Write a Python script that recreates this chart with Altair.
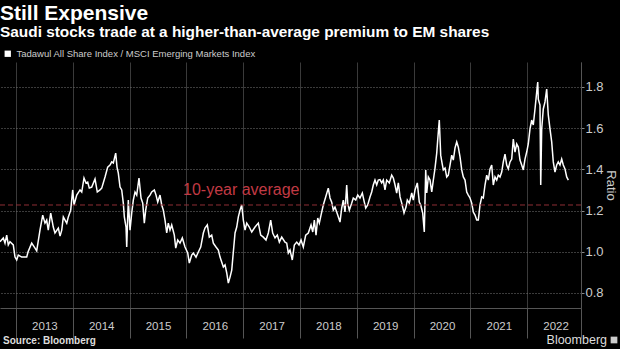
import altair as alt
import pandas as pd

# ---------------- data ----------------
years = [
    2012.718, 2012.776, 2012.806, 2012.836, 2012.864, 2012.894, 2012.952, 2012.982,
    2013.012, 2013.040, 2013.100, 2013.188, 2013.211, 2013.276, 2013.334, 2013.364,
    2013.422, 2013.470, 2013.510, 2013.540, 2013.568, 2013.611, 2013.656, 2013.686,
    2013.745, 2013.775, 2013.805, 2013.833, 2013.863, 2013.893, 2013.921, 2013.963,
    2013.998, 2014.021, 2014.069, 2014.127, 2014.157, 2014.197, 2014.232, 2014.262,
    2014.290, 2014.333, 2014.391, 2014.431, 2014.479, 2014.509, 2014.567, 2014.614,
    2014.655, 2014.685, 2014.713, 2014.755, 2014.778, 2014.801, 2014.831, 2014.861,
    2014.889, 2014.907, 2014.937, 2014.949, 2014.977, 2015.007, 2015.037, 2015.065,
    2015.095, 2015.125, 2015.165, 2015.201, 2015.231, 2015.259, 2015.283, 2015.319,
    2015.359, 2015.389, 2015.435, 2015.465, 2015.495, 2015.535, 2015.565, 2015.593,
    2015.623, 2015.653, 2015.681, 2015.711, 2015.741, 2015.787, 2015.812, 2015.847,
    2015.887, 2015.928, 2015.975, 2016.023, 2016.051, 2016.093, 2016.121, 2016.169,
    2016.210, 2016.252, 2016.298, 2016.327, 2016.368, 2016.403, 2016.445, 2016.474,
    2016.521, 2016.562, 2016.592, 2016.621, 2016.650, 2016.680, 2016.710, 2016.738,
    2016.768, 2016.798, 2016.826, 2016.856, 2016.886, 2016.914, 2016.944, 2016.974,
    2017.002, 2017.032, 2017.062, 2017.107, 2017.150, 2017.208, 2017.266, 2017.308,
    2017.354, 2017.401, 2017.442, 2017.484, 2017.519, 2017.560, 2017.600, 2017.636,
    2017.678, 2017.736, 2017.766, 2017.794, 2017.824, 2017.864, 2017.900, 2017.942,
    2017.982, 2018.018, 2018.058, 2018.100, 2018.146, 2018.194, 2018.224, 2018.252,
    2018.282, 2018.312, 2018.340, 2018.370, 2018.410, 2018.452, 2018.498, 2018.528,
    2018.558, 2018.586, 2018.616, 2018.664, 2018.704, 2018.734, 2018.762, 2018.792,
    2018.822, 2018.840, 2018.868, 2018.910, 2018.938, 2018.981, 2019.016, 2019.056,
    2019.097, 2019.132, 2019.157, 2019.192, 2019.232, 2019.262, 2019.290, 2019.320,
    2019.350, 2019.378, 2019.408, 2019.438, 2019.466, 2019.496, 2019.526, 2019.572,
    2019.614, 2019.643, 2019.673, 2019.702, 2019.731, 2019.761, 2019.791, 2019.831,
    2019.866, 2019.889, 2019.924, 2019.967, 2019.995, 2020.025, 2020.065, 2020.100,
    2020.125, 2020.160, 2020.188, 2020.213, 2020.231, 2020.259, 2020.289, 2020.319,
    2020.347, 2020.377, 2020.407, 2020.424, 2020.452, 2020.477, 2020.500, 2020.523,
    2020.553, 2020.583, 2020.611, 2020.641, 2020.671, 2020.699, 2020.729, 2020.759,
    2020.787, 2020.817, 2020.847, 2020.875, 2020.905, 2020.935, 2020.963, 2020.993,
    2021.023, 2021.051, 2021.081, 2021.111, 2021.139, 2021.169, 2021.199, 2021.227,
    2021.257, 2021.287, 2021.315, 2021.345, 2021.375, 2021.403, 2021.433, 2021.463,
    2021.491, 2021.521, 2021.551, 2021.579, 2021.609, 2021.639, 2021.667, 2021.697,
    2021.727, 2021.755, 2021.785, 2021.815, 2021.843, 2021.873, 2021.903, 2021.931,
    2021.961, 2021.991, 2022.019, 2022.049, 2022.079, 2022.107, 2022.137, 2022.167,
    2022.185, 2022.195, 2022.225, 2022.238, 2022.255, 2022.283, 2022.313, 2022.343,
    2022.371, 2022.401, 2022.431, 2022.459, 2022.489, 2022.519, 2022.547, 2022.577,
    2022.607, 2022.635, 2022.665, 2022.695, 2022.724,
]
ratio = [
    1.049, 1.067, 1.042, 1.081, 1.033, 1.049, 1.033, 0.974,
    0.960, 0.984, 0.974, 0.974, 0.999, 1.042, 1.018, 1.004,
    1.105, 1.178, 1.139, 1.154, 1.105, 1.188, 1.120, 1.091,
    1.115, 1.076, 1.105, 1.169, 1.154, 1.139, 1.169, 1.202,
    1.300, 1.227, 1.275, 1.300, 1.290, 1.358, 1.334, 1.338,
    1.309, 1.314, 1.353, 1.290, 1.300, 1.309, 1.363, 1.411,
    1.421, 1.436, 1.431, 1.479, 1.411, 1.382, 1.314, 1.300,
    1.236, 1.169, 1.120, 1.023, 1.251, 1.105, 1.188, 1.251,
    1.290, 1.275, 1.358, 1.261, 1.236, 1.139, 1.202, 1.261,
    1.275, 1.290, 1.300, 1.275, 1.241, 1.275, 1.227, 1.202,
    1.154, 1.091, 1.139, 1.105, 1.130, 1.081, 1.018, 1.057,
    1.042, 1.067, 1.023, 0.994, 0.945, 0.984, 0.994, 0.974,
    0.999, 1.023, 1.091, 1.115, 1.130, 1.071, 1.081, 1.042,
    1.023, 1.008, 0.974, 0.950, 0.926, 0.936, 0.897, 0.848,
    0.877, 0.911, 0.999, 1.091, 1.120, 1.169, 1.202, 1.227,
    1.154, 1.105, 1.139, 1.120, 1.096, 1.120, 1.139, 1.081,
    1.071, 1.057, 1.091, 1.154, 1.091, 1.067, 1.081, 1.047,
    1.071, 1.047, 1.042, 0.994, 1.008, 0.960, 1.033, 1.047,
    1.033, 1.057, 1.023, 1.081, 1.091, 1.130, 1.096, 1.154,
    1.081, 1.164, 1.139, 1.178, 1.227, 1.266, 1.309, 1.261,
    1.241, 1.202, 1.217, 1.178, 1.144, 1.212, 1.251, 1.193,
    1.324, 1.236, 1.202, 1.236, 1.261, 1.251, 1.275, 1.261,
    1.285, 1.241, 1.212, 1.227, 1.266, 1.290, 1.324, 1.348,
    1.324, 1.348, 1.350, 1.334, 1.348, 1.300, 1.348, 1.334,
    1.372, 1.358, 1.324, 1.285, 1.334, 1.266, 1.236, 1.188,
    1.217, 1.251, 1.236, 1.285, 1.251, 1.300, 1.334, 1.241,
    1.227, 1.188, 1.096, 1.397, 1.285, 1.363, 1.348, 1.290,
    1.348, 1.406, 1.479, 1.542, 1.639, 1.469, 1.431, 1.397,
    1.406, 1.363, 1.372, 1.421, 1.469, 1.445, 1.504, 1.533,
    1.508, 1.460, 1.397, 1.363, 1.348, 1.290, 1.275, 1.261,
    1.236, 1.193, 1.178, 1.154, 1.154, 1.227, 1.266, 1.261,
    1.324, 1.372, 1.348, 1.402, 1.421, 1.324, 1.363, 1.348,
    1.372, 1.363, 1.387, 1.436, 1.474, 1.421, 1.402, 1.436,
    1.450, 1.547, 1.484, 1.523, 1.508, 1.445, 1.421, 1.397,
    1.450, 1.484, 1.523, 1.596, 1.639, 1.615, 1.693, 1.775,
    1.824, 1.741, 1.712, 1.324, 1.596, 1.693, 1.727, 1.790,
    1.664, 1.596, 1.533, 1.436, 1.387, 1.421, 1.436, 1.421,
    1.450, 1.421, 1.402, 1.363, 1.348,
]
series_name = ["Tadawul All Share Index / MSCI Emerging Markets Index"]
year_ticks = [2013, 2014, 2015, 2016, 2017, 2018, 2019, 2020, 2021, 2022]
x_domain = [2012.718, 2022.947]
y_domain = [0.727, 1.921]
ratio_ticks = [0.8, 0.9, 1.0, 1.1, 1.2, 1.3, 1.4, 1.5, 1.6, 1.7, 1.8, 1.9]
avg_value = [1.227]
avg_label = ["10-year average"]
avg_label_year = [2015.94]
avg_label_ratio = [1.30]
source_text = ["Source: Bloomberg"]
brand_text = ["Bloomberg"]

# ---------------- chart ----------------
W, H = 581, 246
FONT = "Liberation Sans"

df = pd.DataFrame({"year": years, "ratio": ratio})
df["series"] = series_name[0]

xs = alt.Scale(domain=x_domain, nice=False, zero=False)
ys = alt.Scale(domain=y_domain, nice=False, zero=False)

x_axis = alt.Axis(
    values=year_ticks + [x_domain[1]],
    labelExpr="datum.value > 2022.5 ? '' : format(datum.value, 'd')",
    orient="bottom",
    domain=True, domainColor="#555555", domainWidth=1,
    ticks=True, tickSize=30, tickColor="#555555", tickWidth=1,
    grid=True, gridColor="#3a3a3a", gridWidth=1,
    labelColor="#cccccc", labelFont=FONT, labelFontSize=11.5,
    labelOffset=28.4, labelPadding=-18, labelAlign="center",
    title=None,
)
y_axis = alt.Axis(
    values=ratio_ticks,
    labelExpr="round(datum.value * 10) % 2 == 0 ? format(datum.value, '.1f') : ''",
    orient="right",
    domain=True, domainColor="#555555", domainWidth=1,
    ticks=True, tickSize=3, tickColor="#888888",
    grid=True, gridColor="#777777", gridDash=[1, 2], gridWidth=1,
    gridOpacity={"condition": {"test": "round(datum.value * 10) % 2 == 0", "value": 1}, "value": 0},
    labelColor="#cccccc", labelFont=FONT, labelFontSize=13, labelPadding=1,
    title="Ratio", titleColor="#cccccc", titleFont=FONT, titleFontSize=13,
    titleFontWeight="normal", titlePadding=0,
)

line = alt.Chart(df).mark_line(strokeWidth=1.5, clip=True).encode(
    x=alt.X("year:Q", scale=xs, axis=x_axis),
    y=alt.Y("ratio:Q", scale=ys, axis=y_axis),
    color=alt.Color(
        "series:N",
        scale=alt.Scale(range=["#ffffff"]),
        legend=alt.Legend(
            title=None, orient="none", legendX=3, legendY=-13,
            symbolType="square", symbolSize=40, symbolFillColor="#ffffff",
            symbolStrokeColor="#ffffff", symbolStrokeWidth=0,
            labelColor="#cccccc", labelFont=FONT, labelFontSize=9.5,
            labelLimit=0, padding=0, symbolOffset=0,
        ),
    ),
)

avg_df = pd.DataFrame({"ratio": avg_value})
avg_rule = alt.Chart(avg_df).mark_rule(
    color="#8f2e35", strokeDash=[5, 3], strokeWidth=1
).encode(y=alt.Y("ratio:Q", scale=ys))

lbl_df = pd.DataFrame({"year": avg_label_year, "ratio": avg_label_ratio, "t": avg_label})
avg_text = alt.Chart(lbl_df).mark_text(
    align="left", baseline="middle", color="#c23a44", font=FONT, fontSize=16
).encode(
    x=alt.X("year:Q", scale=xs),
    y=alt.Y("ratio:Q", scale=ys),
    text="t:N",
)

src = alt.Chart(pd.DataFrame({"t": source_text})).mark_text(
    align="left", baseline="middle", color="#dddddd", font=FONT, fontSize=10, fontWeight="bold"
).encode(x=alt.value(3), y=alt.value(H + 33), text="t:N")

brand = alt.Chart(pd.DataFrame({"t": brand_text})).mark_text(
    align="right", baseline="middle", color="#dddddd", font=FONT, fontSize=12.5
).encode(x=alt.value(W + 26), y=alt.value(H + 32), text="t:N")

icon = alt.Chart(pd.DataFrame({"t": brand_text})).mark_square(
    size=45, color="#cccccc", opacity=1
).encode(x=alt.value(W + 33), y=alt.value(H + 32))

chart = alt.layer(line, avg_rule, avg_text, src, brand, icon).properties(
    width=W,
    height=H,
    autosize=alt.AutoSizeParams(type="none"),
    padding={"left": 0, "top": 62, "right": 39, "bottom": 41},
    title=alt.TitleParams(
        text="Still Expensive",
        subtitle=["Saudi stocks trade at a higher-than-average premium to EM shares"],
        anchor="start", frame="group", orient="top",
        font=FONT, fontSize=21, fontWeight="bold", color="#ffffff",
        subtitleFont=FONT, subtitleFontSize=15.4, subtitleFontWeight="bold",
        subtitleColor="#ffffff", subtitlePadding=1, offset=9,
    ),
).configure(background="#000000").configure_view(strokeWidth=0)

chart.save("out.html", embed_options={"renderer": "svg", "actions": False})
